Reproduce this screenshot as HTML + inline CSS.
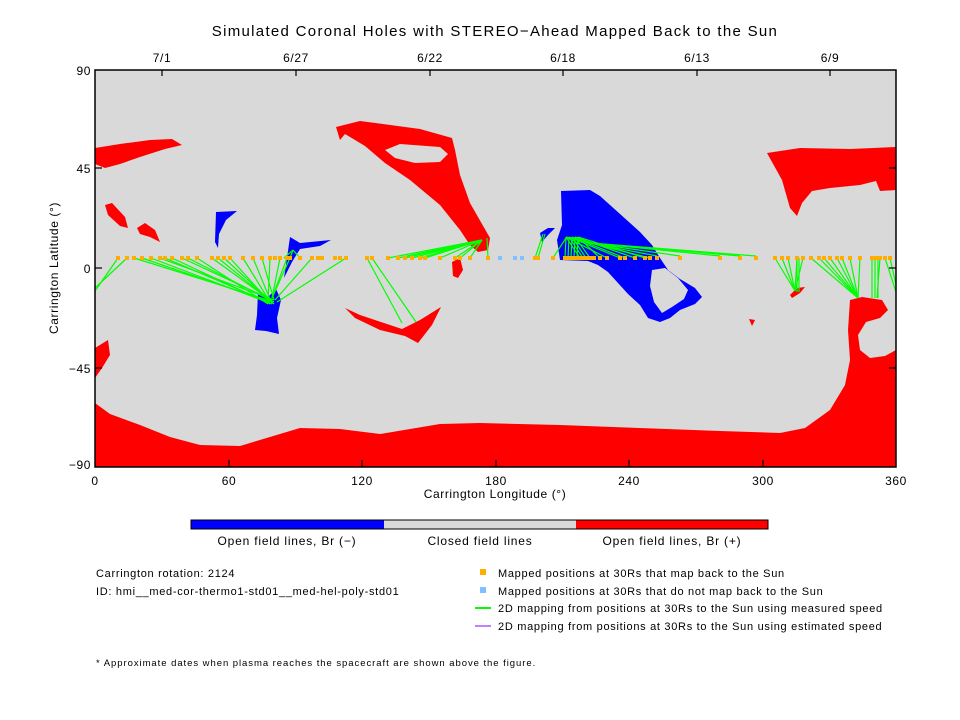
<!DOCTYPE html>
<html><head><meta charset="utf-8"><style>
body{margin:0;background:#fff;}
svg{display:block;font-family:"Liberation Sans",sans-serif;}
</style></head><body>
<svg id="s" width="960" height="720" viewBox="0 0 960 720" xmlns="http://www.w3.org/2000/svg">
<rect width="960" height="720" fill="#fff"/>
<text x="495" y="36" font-size="15" text-anchor="middle" fill="#000" letter-spacing="1.3">Simulated Coronal Holes with STEREO−Ahead Mapped Back to the Sun</text>
<g font-size="12" text-anchor="middle" letter-spacing="0.6">
<text x="162" y="62">7/1</text><text x="296" y="62">6/27</text><text x="430" y="62">6/22</text>
<text x="563" y="62">6/18</text><text x="697" y="62">6/13</text><text x="830" y="62">6/9</text>
</g>
<rect x="95" y="70" width="801" height="397" fill="#d9d9d9"/>
<g fill="#ff0000">
<path d="M95,403 L110,414 L140,425 L170,437 L200,445 L240,446 L280,434 L300,428 L340,429 L380,434 L440,424 L480,423 L560,425 L640,428 L720,431 L780,433 L805,428 L830,410 L845,385 L850,360 L848,330 L850,300 L862,297 L882,300 L888,310 L880,318 L866,322 L858,335 L860,350 L870,358 L885,356 L896,350 L896,467 L95,467Z"/>
<path d="M95,148 L120,144 L150,140 L172,139 L182,145 L165,149 L140,157 L120,164 L105,168 L95,164Z"/>
<path d="M105,205 L112,203 L125,217 L128,228 L120,226 L108,215Z"/>
<path d="M137,228 L145,223 L155,230 L160,242 L150,237 L140,234Z"/>
<path fill-rule="evenodd" d="M336,127 L360,121 L420,129 L452,138 L455,150 L460,175 L470,203 L482,224 L490,238 L488,250 L478,252 L470,245 L460,230 L440,205 L410,180 L385,163 L365,146 L345,134 L340,140Z M385,150 L400,144 L440,147 L448,154 L440,162 L415,163 L395,158Z"/>
<path d="M452,262 L460,258 L463,270 L458,278 L453,276Z"/>
<path d="M345,308 L360,315 L390,325 L402,329 L420,320 L441,307 L432,325 L418,343 L405,336 L380,330 L355,318Z"/>
<path d="M95,348 L108,340 L110,355 L102,368 L95,378Z"/>
<path d="M767,153 L800,148 L850,149 L896,147 L896,190 L880,191 L876,181 L860,185 L830,188 L812,191 L802,203 L797,216 L790,208 L782,180 L772,162Z"/>
<path d="M790,295 L797,288 L805,287 L800,293 L792,298Z"/>
<path d="M749,319 L755,320 L752,326Z"/>
</g>
<g fill="#0000ff">
<path fill-rule="evenodd" d="M561,191 L590,190 L600,196 L620,214 L640,232 L652,245 L660,258 L668,270 L680,279 L695,288 L702,297 L695,304 L680,310 L670,318 L660,322 L648,318 L640,305 L628,294 L618,283 L608,272 L598,265 L588,261 L560,260 L557,240 L562,225Z M652,270 L665,268 L678,278 L688,290 L684,299 L672,307 L662,313 L654,302 L650,286Z"/>
<path d="M540,233 L548,228 L555,228 L548,235 L542,242Z"/>
<path d="M216,212 L237,211 L226,220 L219,234 L218,248 L215,242Z"/>
<path d="M258,293 L268,297 L276,289 L281,300 L277,318 L279,334 L266,331 L255,330 L257,315Z"/>
<path d="M290,237 L300,243 L331,240 L320,246 L300,249 L292,262 L284,278 L287,258Z"/>
</g>
<g id="lines" stroke="#00ff00" stroke-width="1.2"></g>
<g id="dots"></g>
<rect x="95" y="70" width="801" height="397" fill="none" stroke="#000" stroke-width="1.5"/>
<g stroke="#000" stroke-width="1.2">
<line x1="95" y1="168" x2="102" y2="168"/><line x1="95" y1="268" x2="102" y2="268"/><line x1="95" y1="368" x2="102" y2="368"/>
<line x1="889" y1="168" x2="896" y2="168"/><line x1="889" y1="268" x2="896" y2="268"/><line x1="889" y1="368" x2="896" y2="368"/>
<line x1="229" y1="467" x2="229" y2="460"/><line x1="362" y1="467" x2="362" y2="460"/><line x1="496" y1="467" x2="496" y2="460"/><line x1="629" y1="467" x2="629" y2="460"/><line x1="763" y1="467" x2="763" y2="460"/>
<line x1="162" y1="70" x2="162" y2="76"/><line x1="296" y1="70" x2="296" y2="76"/><line x1="430" y1="70" x2="430" y2="76"/><line x1="563" y1="70" x2="563" y2="76"/><line x1="697" y1="70" x2="697" y2="76"/><line x1="830" y1="70" x2="830" y2="76"/>
</g>
<g font-size="12" text-anchor="end" letter-spacing="0.6">
<text x="91" y="75">90</text><text x="91" y="173">45</text><text x="91" y="273">0</text><text x="91" y="373">−45</text><text x="91" y="469">−90</text>
</g>
<g font-size="12" text-anchor="middle" letter-spacing="0.6">
<text x="95" y="485">0</text><text x="229" y="485">60</text><text x="362" y="485">120</text><text x="496" y="485">180</text><text x="629" y="485">240</text><text x="763" y="485">300</text><text x="896" y="485">360</text>
<text x="495" y="498">Carrington Longitude (°)</text>
<text transform="translate(58,268) rotate(-90)">Carrington Latitude (°)</text>
</g>
<rect x="191" y="520" width="193" height="9" fill="#0000ff"/>
<rect x="384" y="520" width="192" height="9" fill="#d9d9d9"/>
<rect x="576" y="520" width="192" height="9" fill="#ff0000"/>
<rect x="191" y="520" width="577" height="9" fill="none" stroke="#000" stroke-width="1"/>
<g font-size="12" text-anchor="middle" letter-spacing="0.8">
<text x="287" y="545">Open field lines, Br (−)</text>
<text x="480" y="545">Closed field lines</text>
<text x="672" y="545">Open field lines, Br (+)</text>
</g>
<g font-size="11" letter-spacing="0.7">
<text x="96" y="577">Carrington rotation: 2124</text>
<text x="96" y="595">ID: hmi__med-cor-thermo1-std01__med-hel-poly-std01</text>
<rect x="480" y="569" width="6" height="6" fill="#ffae00"/>
<rect x="480" y="587" width="6" height="6" fill="#80c0ff"/>
<line x1="475" y1="608" x2="491" y2="608" stroke="#00ff00" stroke-width="2"/>
<line x1="475" y1="626" x2="491" y2="626" stroke="#c080ff" stroke-width="2"/>
<text x="498" y="577">Mapped positions at 30Rs that map back to the Sun</text>
<text x="498" y="595">Mapped positions at 30Rs that do not map back to the Sun</text>
<text x="498" y="612">2D mapping from positions at 30Rs to the Sun using measured speed</text>
<text x="498" y="630">2D mapping from positions at 30Rs to the Sun using estimated speed</text>
<text x="96" y="666" font-size="9.5" letter-spacing="0.95">* Approximate dates when plasma reaches the spacecraft are shown above the figure.</text>
</g>
<script>
var ns="http://www.w3.org/2000/svg",L=document.getElementById("lines"),D=document.getElementById("dots");
function ln(a,b,c,d){var e=document.createElementNS(ns,"line");e.setAttribute("x1",a);e.setAttribute("y1",b);e.setAttribute("x2",c);e.setAttribute("y2",d);L.appendChild(e);}
function dot(x,c){var e=document.createElementNS(ns,"rect");e.setAttribute("x",x-2);e.setAttribute("y",256);e.setAttribute("width",4);e.setAttribute("height",4);e.setAttribute("fill",c);D.appendChild(e);}
ln(95,291,118,258);ln(95,288,127,258);
[134,142,151,160,165,172,182,188,197,212,218,224,230,243,253,262,270].forEach(function(x,i){ln(x,258,268+(i%4)*2,300+(i%3)*2);});
[280,287,290].forEach(function(x){ln(x,258,272,298);});
[284,290,300].forEach(function(x){ln(x,258,293,250);});
ln(312,258,275,300);ln(346,258,277,302);
ln(367,258,402,323);ln(372,258,416,322);
[388,398,405,412,420,425,440,455,460,470].forEach(function(x){ln(x,258,482,240);});
ln(488,258,487,238);
ln(535,258,543,234);ln(538,258,545,234);ln(553,258,566,238);
[565,568,571,574,577,580,583,586,590,600,607,620,625,635,645,650].forEach(function(x,i){ln(x,258,566+(i%5)*3,237);});
[657,680,720,740,756].forEach(function(x){ln(x,256,590,243);});
[775,782,788,797,803].forEach(function(x){ln(x,258,795,291);});
ln(797,258,797,292);ln(799,258,799,292);
[811,819,824,830,837,842,850,860].forEach(function(x){ln(x,258,858,298);});
[872,875,878].forEach(function(x){ln(x,258,x,298);});ln(880,258,877,298);
ln(885,258,896,292);ln(890,258,896,285);
[118,127,134,142,151,160,165,172,182,188,197,212,218,224,230,243,253,262,270,275,280,287,290,300,312,318,322,335,340,346,367,372,388,398,405,412,420,425,440,455,460,470,488,535,538,553,565,568,571,574,577,580,583,586,590,594,600,607,620,625,635,645,650,657,680,720,740,756,775,782,788,797,803,811,819,824,830,837,842,850,860,872,876,880,885,890].forEach(function(x){dot(x,"#ffae00");});
[500,515,522].forEach(function(x){dot(x,"#80c0ff");});
</script>
</svg>
</body></html>
